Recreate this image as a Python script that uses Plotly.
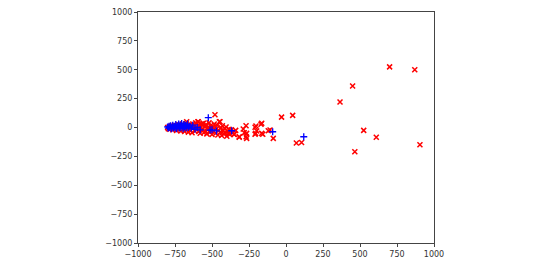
import plotly.graph_objects as go

# Red "x" series
red_x = [-800, -795, -790, -785, -780, -775, -770, -765, -760, -755, -750, -745, -740, -735, -730, -725, -720, -715, -710, -705, -700,
         -695, -690, -685, -680, -675, -670, -665, -660, -655, -650, -645, -640, -635, -630, -625, -620, -615, -610, -605, -600,
         -595, -590, -585, -580, -575, -570, -565, -560, -555, -550, -545, -540, -535, -530, -525, -520, -515, -510, -505, -500,
         -495, -490, -485, -480, -475, -470, -465, -460, -455, -450, -445, -440, -435, -430, -425, -420, -415, -410, -405, -400,
         -395, -390, -385, -380, -375, -370, -360, -350, -340, -671, -593, -559, -446,
         -351, -316, -289, -270, -266, -209, -198, -169, -209, -157, -108, -86, -282, -164, -203, -120, -164, -205, -266, -270, -316,
         -30, 45, 70, 105, 365, 450, 700, 870, 525, 610, 465, 905]
red_y = [0, -10, 5, -15, 10, -5, 15, -20, 0, 20, -10, 5, -25, 15, -5, 25, -15, 10, -30, 0, 30,
         -20, 15, -35, 5, 35, -10, 20, -40, 0, 25, -25, 10, -45, 30, -5, 15, -30, 40, -15, 5,
         50, -35, 20, -50, 0, 30, -20, 35, -45, 10, -30, 25, -55, 0, -15, 40, -40, 15, -25, -60,
         5, -35, 30, 110, -50, -10, 20, -65, -25, 50, -40, 0, -70, 15, -30, -55, -10, -45, 5, -75,
         -30, -50, -15, -60, -35, -20, -45, -60, -25, 50, 50, 36, 50,
         -59, -85, -13, 15, -94, 2, -30, 28, -59, -59, -22, -94, -45, 36, 13, -28, -51, -51, -51, -80, -80,
         90, 105, -135, -130, 220, 360, 525, 500, -25, -85, -210, -150]

# Blue "+" series
blue_x = [-800, -795, -790, -785, -780, -775, -770, -765, -760, -755, -750, -745, -740, -735, -730, -725, -720, -715, -710, -705,
          -700, -695, -690, -685, -680, -675, -670, -665, -660, -650, -640, -630, -615, -600, -580, -525, -513, -500, -470, -367,
          -90, 120]
blue_y = [5, -5, 10, 0, 15, -10, 5, 20, -5, 10, 0, 25, -10, 15, 5, 30, -5, 20, 0, 35,
          10, -10, 25, 5, 20, -5, 15, 30, 0, 10, -5, 20, -15, 0, -20, 85, -22, -20, -30, -28,
          -37, -80]

ticks = [-1000, -750, -500, -250, 0, 250, 500, 750, 1000]
tick_text = ["\u22121000", "\u2212750", "\u2212500", "\u2212250", "0", "250", "500", "750", "1000"]

fig = go.Figure()
fig.add_trace(go.Scatter(
    x=red_x, y=red_y, mode="markers",
    marker=dict(symbol="x-thin", size=5, color="#ff0000",
                line=dict(color="#ff0000", width=1.5)),
    showlegend=False))
fig.add_trace(go.Scatter(
    x=blue_x, y=blue_y, mode="markers",
    marker=dict(symbol="cross-thin", size=5, color="#0000ff",
                line=dict(color="#0000ff", width=1.3)),
    showlegend=False))

axis_common = dict(
    range=[-1000, 1000], tickmode="array", tickvals=ticks, ticktext=tick_text,
    showgrid=False, zeroline=False, showline=True, mirror=True,
    linecolor="#444", linewidth=1, ticks="outside", ticklen=3, tickwidth=1,
    tickcolor="#444", tickfont=dict(family="DejaVu Sans", size=8, color="#333"),
    automargin=False, ticklabeloverflow="allow",
)
fig.update_xaxes(**axis_common)
fig.update_yaxes(**axis_common)

fig.update_layout(
    width=550, height=263,
    margin=dict(l=138, r=116, t=12, b=20),
    paper_bgcolor="white", plot_bgcolor="white",
)

fig.write_html("out.html", config={"displayModeBar": False},
               post_script="document.body.style.margin='0';")
